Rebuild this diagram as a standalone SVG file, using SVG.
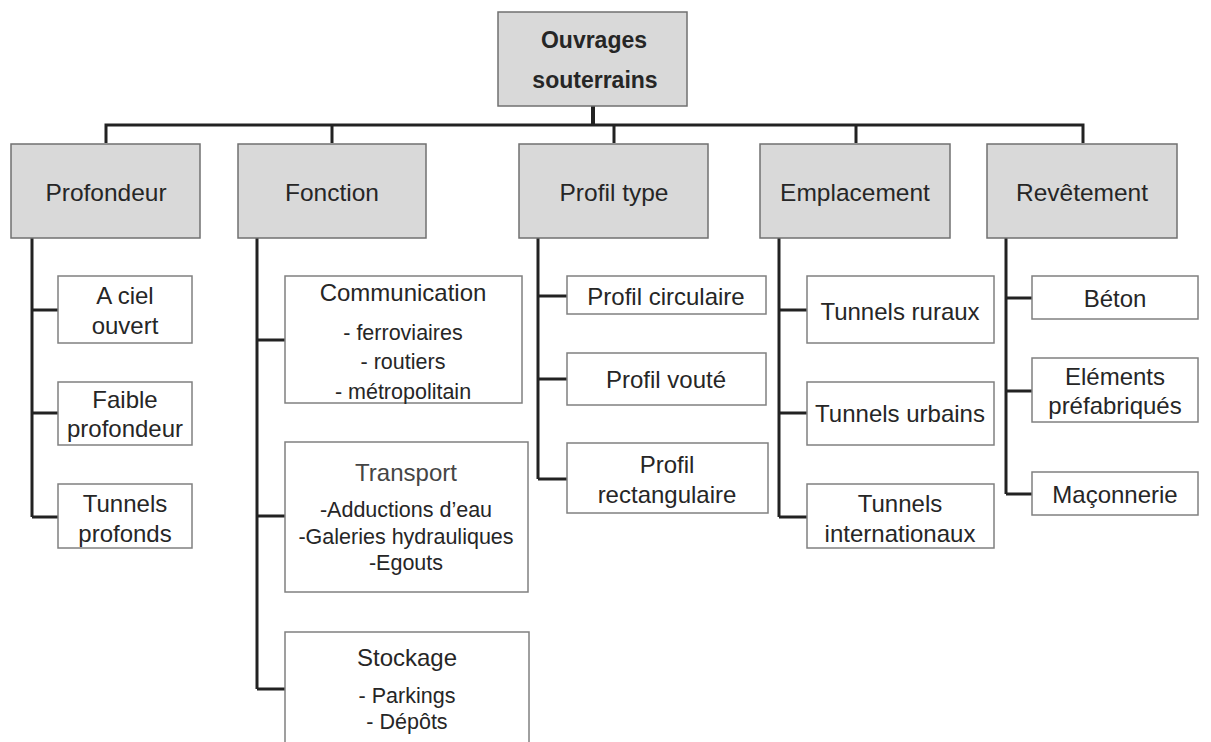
<svg xmlns="http://www.w3.org/2000/svg" width="1211" height="742" viewBox="0 0 1211 742">
<style>
.main{fill:#d9d9d9;stroke:#707070;stroke-width:1.5}
.sub{fill:#ffffff;stroke:#808080;stroke-width:1.5}
.t{font-family:"Liberation Sans",Arial,sans-serif;fill:#262626;text-anchor:middle;dominant-baseline:central}
.l1{font-size:24.5px}
.s{font-size:24px}
.i{font-size:21.5px}
.root{font-size:23px;font-weight:bold}
.lt{fill:#454545}
.c{fill:none;stroke:#222;stroke-width:3}
</style>
<rect width="1211" height="742" fill="#fff"/>
<g id="connectors">
<path class="c" d="M593 106V125" style="stroke-width:4"/>
<path class="c" d="M106 143V125H1083V143M332 125V143M614 125V143M856 125V143"/>
<path class="c" d="M32 238V517M32 310H58M32 413H58M32 517H58"/>
<path class="c" d="M257 238V689M257 340H285M257 516H285M257 689H285"/>
<path class="c" d="M538 238V479M538 296H567M538 379H567M538 479H567"/>
<path class="c" d="M779 238V517M779 310H807M779 413H807M779 517H807"/>
<path class="c" d="M1006 238V494M1006 298H1032M1006 391H1032M1006 494H1032"/>
</g>
<g id="root">
<rect class="main" x="498" y="12" width="189" height="94"/>
<text class="t root" x="594" y="40">Ouvrages</text>
<text class="t root" x="595" y="80">souterrains</text>
</g>
<g id="profondeur">
<rect class="main" x="11" y="144" width="189" height="94"/>
<text class="t l1" x="106" y="192">Profondeur</text>
</g>
<g id="fonction">
<rect class="main" x="238" y="144" width="188" height="94"/>
<text class="t l1" x="332" y="192">Fonction</text>
</g>
<g id="profil-type">
<rect class="main" x="519" y="144" width="189" height="94"/>
<text class="t l1" x="614" y="192">Profil type</text>
</g>
<g id="emplacement">
<rect class="main" x="760" y="144" width="190" height="94"/>
<text class="t l1" x="855" y="192">Emplacement</text>
</g>
<g id="revetement">
<rect class="main" x="987" y="144" width="190" height="94"/>
<text class="t l1" x="1082" y="192">Revêtement</text>
</g>
<g id="a-ciel-ouvert">
<rect class="sub" x="58" y="276" width="134" height="67"/>
<text class="t s" x="125" y="295">A ciel</text>
<text class="t s" x="125" y="325">ouvert</text>
</g>
<g id="faible-profondeur">
<rect class="sub" x="58" y="382" width="134" height="63"/>
<text class="t s" x="125" y="399">Faible</text>
<text class="t s" x="125" y="428">profondeur</text>
</g>
<g id="tunnels-profonds">
<rect class="sub" x="58" y="484" width="134" height="64"/>
<text class="t s" x="125" y="503">Tunnels</text>
<text class="t s" x="125" y="533">profonds</text>
</g>
<g id="communication">
<rect class="sub" x="285" y="276" width="237" height="127"/>
<text class="t s" x="403" y="292">Communication</text>
<text class="t i" x="403" y="333">- ferroviaires</text>
<text class="t i" x="403" y="362">- routiers</text>
<text class="t i" x="403" y="392">- métropolitain</text>
</g>
<g id="transport">
<rect class="sub" x="285" y="442" width="243" height="150"/>
<text class="t s lt" x="406" y="472">Transport</text>
<text class="t i" x="406" y="510">-Adductions d’eau</text>
<text class="t i" x="406" y="537">-Galeries hydrauliques</text>
<text class="t i" x="406" y="563">-Egouts</text>
</g>
<g id="stockage">
<rect class="sub" x="285" y="632" width="244" height="130"/>
<text class="t s" x="407" y="657">Stockage</text>
<text class="t i" x="407" y="696">- Parkings</text>
<text class="t i" x="407" y="722">- Dépôts</text>
</g>
<g id="profil-circulaire">
<rect class="sub" x="567" y="276" width="199" height="38"/>
<text class="t s" x="666" y="296">Profil circulaire</text>
</g>
<g id="profil-voute">
<rect class="sub" x="567" y="353" width="199" height="52"/>
<text class="t s" x="666" y="379">Profil vouté</text>
</g>
<g id="profil-rectangulaire">
<rect class="sub" x="567" y="443" width="201" height="70"/>
<text class="t s" x="667" y="464">Profil</text>
<text class="t s" x="667" y="494">rectangulaire</text>
</g>
<g id="tunnels-ruraux">
<rect class="sub" x="807" y="276" width="187" height="67"/>
<text class="t s" x="900" y="311">Tunnels ruraux</text>
</g>
<g id="tunnels-urbains">
<rect class="sub" x="807" y="382" width="187" height="63"/>
<text class="t s" x="900" y="413">Tunnels urbains</text>
</g>
<g id="tunnels-internationaux">
<rect class="sub" x="807" y="484" width="187" height="64"/>
<text class="t s" x="900" y="503">Tunnels</text>
<text class="t s" x="900" y="533">internationaux</text>
</g>
<g id="beton">
<rect class="sub" x="1032" y="276" width="166" height="43"/>
<text class="t s" x="1115" y="298">Béton</text>
</g>
<g id="elements-prefabriques">
<rect class="sub" x="1032" y="358" width="166" height="64"/>
<text class="t s" x="1115" y="376">Eléments</text>
<text class="t s" x="1115" y="405">préfabriqués</text>
</g>
<g id="maconnerie">
<rect class="sub" x="1032" y="472" width="166" height="43"/>
<text class="t s" x="1115" y="494">Maçonnerie</text>
</g>
</svg>
